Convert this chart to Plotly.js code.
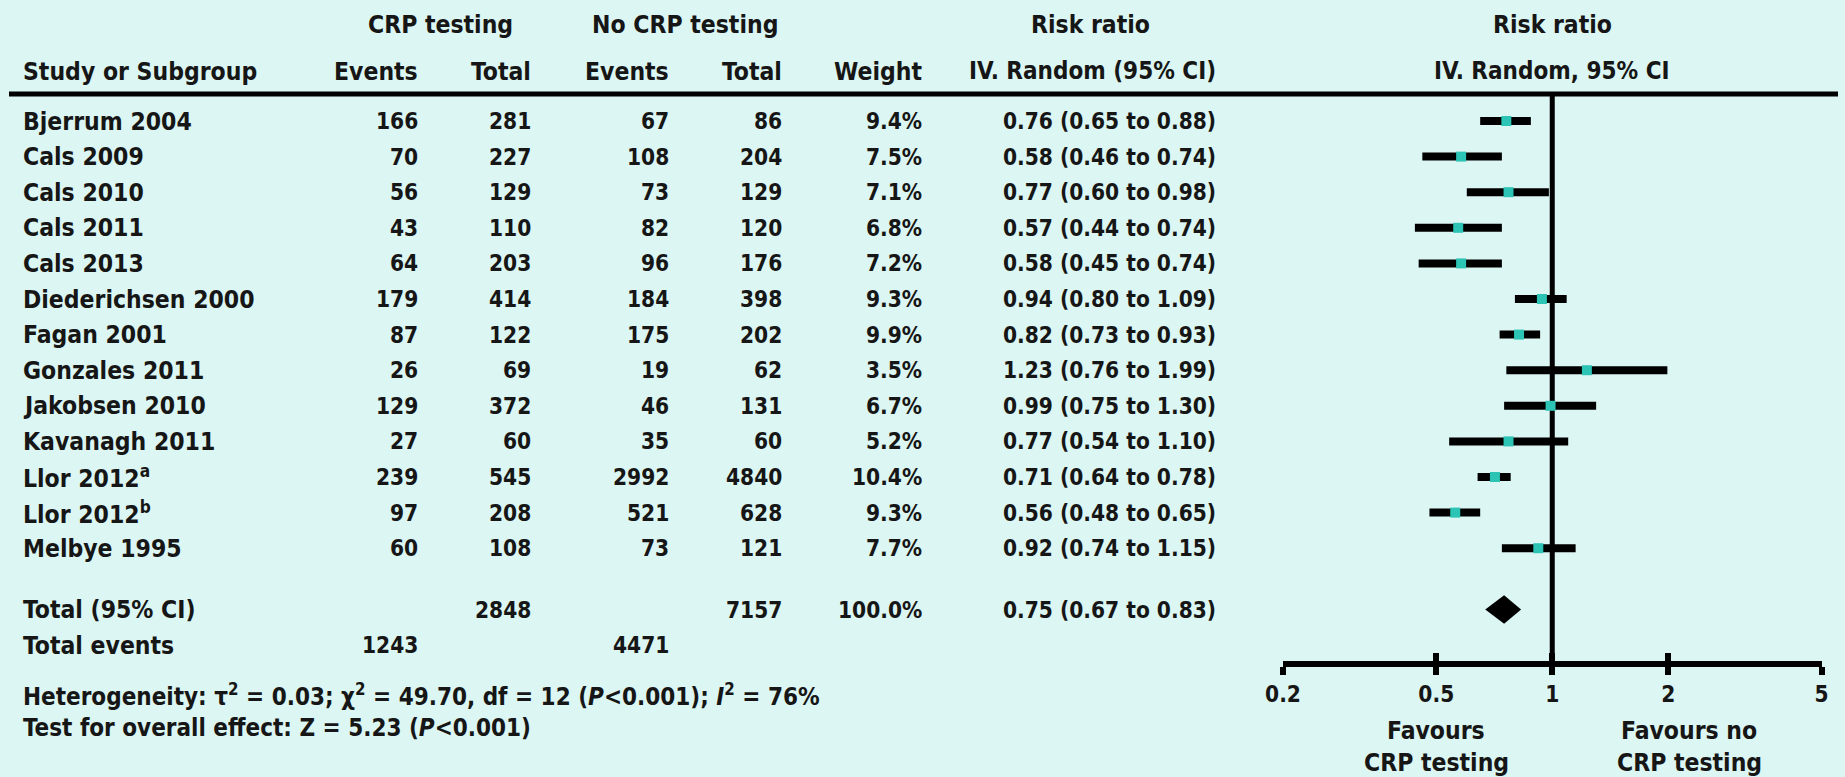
<!DOCTYPE html>
<html>
<head>
<meta charset="utf-8">
<script src="https://cdn.plot.ly/plotly-3.0.1.min.js"></script>
<style>
  html, body { margin: 0; padding: 0; background: #dcf6f3; }
  #chart { width: 1845px; height: 777px; }
</style>
</head>
<body>
<div id="chart"></div>
<script>
// ---------------- data ----------------
const studies = ["Bjerrum 2004", "Cals 2009", "Cals 2010", "Cals 2011", "Cals 2013",
  "Diederichsen 2000", "Fagan 2001", "Gonzales 2011", "Jakobsen 2010", "Kavanagh 2011",
  "Llor 2012<sup>a</sup>", "Llor 2012<sup>b</sup>", "Melbye 1995"];
const crpEvents = [166, 70, 56, 43, 64, 179, 87, 26, 129, 27, 239, 97, 60];
const crpTotal  = [281, 227, 129, 110, 203, 414, 122, 69, 372, 60, 545, 208, 108];
const noEvents  = [67, 108, 73, 82, 96, 184, 175, 19, 46, 35, 2992, 521, 73];
const noTotal   = [86, 204, 129, 120, 176, 398, 202, 62, 131, 60, 4840, 628, 121];
const weights   = ["9.4%", "7.5%", "7.1%", "6.8%", "7.2%", "9.3%", "9.9%", "3.5%", "6.7%", "5.2%", "10.4%", "9.3%", "7.7%"];
const rr        = [0.76, 0.58, 0.77, 0.57, 0.58, 0.94, 0.82, 1.23, 0.99, 0.77, 0.71, 0.56, 0.92];
const rrLow     = [0.65, 0.46, 0.60, 0.44, 0.45, 0.80, 0.73, 0.76, 0.75, 0.54, 0.64, 0.48, 0.74];
const rrHigh    = [0.88, 0.74, 0.98, 0.74, 0.74, 1.09, 0.93, 1.99, 1.30, 1.10, 0.78, 0.65, 1.15];

const totalCrpTotal = 2848, totalNoTotal = 7157, totalWeight = "100.0%";
const totalCrpEvents = 1243, totalNoEvents = 4471;
const totalRR = 0.75, totalLow = 0.67, totalHigh = 0.83;

const tickVals = [0.2, 0.5, 1, 2, 5];
const tickText = ["0.2", "0.5", "1", "2", "5"];

const heterogeneityText = "Heterogeneity: τ<sup>2</sup> = 0.03; χ<sup>2</sup> = 49.70, df = 12 (<i>P</i>&lt;0.001); <i>I</i><sup>2</sup> = 76%";
const overallText = "Test for overall effect: Z = 5.23 (<i>P</i>&lt;0.001)";

// ---------------- layout constants ----------------
const W = 1845, H = 777;
const FONT = "DejaVu Sans Condensed, DejaVu Sans, sans-serif";
const INK = "#161616";
const BG = "#dcf6f3";
const TEAL = "#2cc4b4";
const fsText = 24.5;   // words
const fsNum = 22.5;    // numeric columns
const fsNote = 24;     // footer notes
const fsHead = 24;     // CI column headers

const rowTop = 121, rowStep = 35.6;
const plotTopPx = 94, plotBotPx = 661;
const yAt = p => (p - rowTop) / rowStep;   // pixel -> row index
const px = x => x / W;                      // pixel -> paper x
const py = p => 1 - p / H;                  // pixel -> paper y

const colStudy = px(21);
const colRight = { crpEv: px(420), crpTot: px(533), noEv: px(671), noTot: px(784), wt: px(924), rr: px(1218) };

const fmt = v => v.toFixed(2);
const rrLabel = (m, l, h) => `${fmt(m)} (${fmt(l)} to ${fmt(h)})`;

const annotations = [];
function addText(text, x, y, anchor, size, yref) {
  annotations.push({
    text: text, x: x, y: y, xref: "paper", yref: yref || "paper",
    xanchor: anchor, yanchor: "middle", showarrow: false,
    font: { family: FONT, size: size, color: INK, weight: "bold" }
  });
}

// headers
const h1 = py(25), h2 = py(71);
addText("CRP testing", px(440), h1, "center", fsText);
addText("No CRP testing", px(685), h1, "center", fsText);
addText("Risk ratio", px(1090), h1, "center", fsText);
addText("Risk ratio", px(1552), h1, "center", fsText);
addText("Study or Subgroup", colStudy, h2, "left", fsText);
addText("Events", colRight.crpEv, h2, "right", fsText);
addText("Total", colRight.crpTot, h2, "right", fsText);
addText("Events", colRight.noEv, h2, "right", fsText);
addText("Total", colRight.noTot, h2, "right", fsText);
addText("Weight", colRight.wt, h2, "right", fsText);
addText("IV. Random (95% CI)", colRight.rr, h2, "right", fsHead);
addText("IV. Random, 95% CI", px(1552), h2, "center", fsHead);

// study rows (y = row index on the y axis)
studies.forEach((s, i) => {
  addText(s, colStudy, i, "left", fsText, "y");
  addText(String(crpEvents[i]), colRight.crpEv, i, "right", fsNum, "y");
  addText(String(crpTotal[i]), colRight.crpTot, i, "right", fsNum, "y");
  addText(String(noEvents[i]), colRight.noEv, i, "right", fsNum, "y");
  addText(String(noTotal[i]), colRight.noTot, i, "right", fsNum, "y");
  addText(weights[i], colRight.wt, i, "right", fsNum, "y");
  addText(rrLabel(rr[i], rrLow[i], rrHigh[i]), colRight.rr, i, "right", fsNum, "y");
});

// totals
const tRowPx = 609.5, teRowPx = 645;
addText("Total (95% CI)", colStudy, py(tRowPx), "left", fsText);
addText(String(totalCrpTotal), colRight.crpTot, py(tRowPx), "right", fsNum);
addText(String(totalNoTotal), colRight.noTot, py(tRowPx), "right", fsNum);
addText(totalWeight, colRight.wt, py(tRowPx), "right", fsNum);
addText(rrLabel(totalRR, totalLow, totalHigh), colRight.rr, py(tRowPx), "right", fsNum);
addText("Total events", colStudy, py(teRowPx), "left", fsText);
addText(String(totalCrpEvents), colRight.crpEv, py(teRowPx), "right", fsNum);
addText(String(totalNoEvents), colRight.noEv, py(teRowPx), "right", fsNum);

addText(heterogeneityText, colStudy, py(695), "left", fsNote);
addText(overallText, colStudy, py(728), "left", fsNote);

// favours labels
addText("Favours", px(1436), py(730), "center", fsText);
addText("CRP testing", px(1436), py(762), "center", fsText);
addText("Favours no", px(1689), py(730), "center", fsText);
addText("CRP testing", px(1689), py(762), "center", fsText);

// ---------------- traces ----------------
const studyTrace = {
  type: "scatter", mode: "markers",
  x: rr, y: studies.map((_, i) => i),
  marker: { symbol: "square", size: 10, color: TEAL, line: { width: 0 } },
  error_x: {
    type: "data", symmetric: false,
    array: rr.map((m, i) => rrHigh[i] - m),
    arrayminus: rr.map((m, i) => m - rrLow[i]),
    thickness: 8, width: 0, color: "#000"
  },
  cliponaxis: false, hoverinfo: "skip", showlegend: false
};

const tRow = yAt(tRowPx);
const dh = 0.4;
const diamond = {
  type: "scatter", mode: "lines",
  x: [totalLow, totalRR, totalHigh, totalRR, totalLow],
  y: [tRow, tRow - dh, tRow, tRow + dh, tRow],
  fill: "toself", fillcolor: "#000", line: { width: 0, color: "#000" },
  hoverinfo: "skip", showlegend: false
};

const anchorTrace = {
  type: "scatter", mode: "markers", x: [1], y: [0], xaxis: "x2",
  marker: { opacity: 0 }, hoverinfo: "skip", showlegend: false
};

const xRange = [Math.log10(tickVals[0]), Math.log10(tickVals[tickVals.length - 1])];
const xDomain = [px(1283), px(1821.5)];
const yDomain = [(H - plotBotPx) / H, (H - plotTopPx) / H];

const layout = {
  width: W, height: H,
  margin: { l: 0, r: 0, t: 0, b: 0 },
  paper_bgcolor: BG, plot_bgcolor: BG,
  font: { family: FONT, size: fsNum, color: INK, weight: "bold" },
  showlegend: false,
  xaxis: {
    type: "log", range: xRange, domain: xDomain,
    showgrid: false, zeroline: false,
    showline: true, linewidth: 6, linecolor: "#000",
    ticks: "outside", ticklen: 8, tickwidth: 6, tickcolor: "#000",
    tickvals: tickVals, ticktext: tickText,
    tickfont: { family: FONT, size: fsNum, color: INK, weight: "bold" },
    fixedrange: true
  },
  xaxis2: {
    type: "log", range: xRange, domain: xDomain, overlaying: "x", anchor: "y", side: "bottom",
    showgrid: false, zeroline: false, showline: false,
    ticks: "inside", ticklen: 8, tickwidth: 6, tickcolor: "#000",
    tickvals: tickVals, showticklabels: false, fixedrange: true
  },
  yaxis: {
    range: [yAt(plotBotPx), yAt(plotTopPx)], domain: yDomain,
    visible: false, fixedrange: true
  },
  shapes: [
    { type: "line", xref: "paper", yref: "y domain", x0: px(9), x1: px(1838), y0: 1, y1: 1,
      line: { color: "#000", width: 5 } },
    { type: "line", xref: "x", yref: "y domain", x0: 1, x1: 1, y0: 0, y1: 1,
      line: { color: "#000", width: 5 }, layer: "below" }
  ],
  annotations: annotations
};

Plotly.newPlot("chart", [anchorTrace, studyTrace, diamond], layout, { staticPlot: true, displayModeBar: false });
</script>
</body>
</html>
